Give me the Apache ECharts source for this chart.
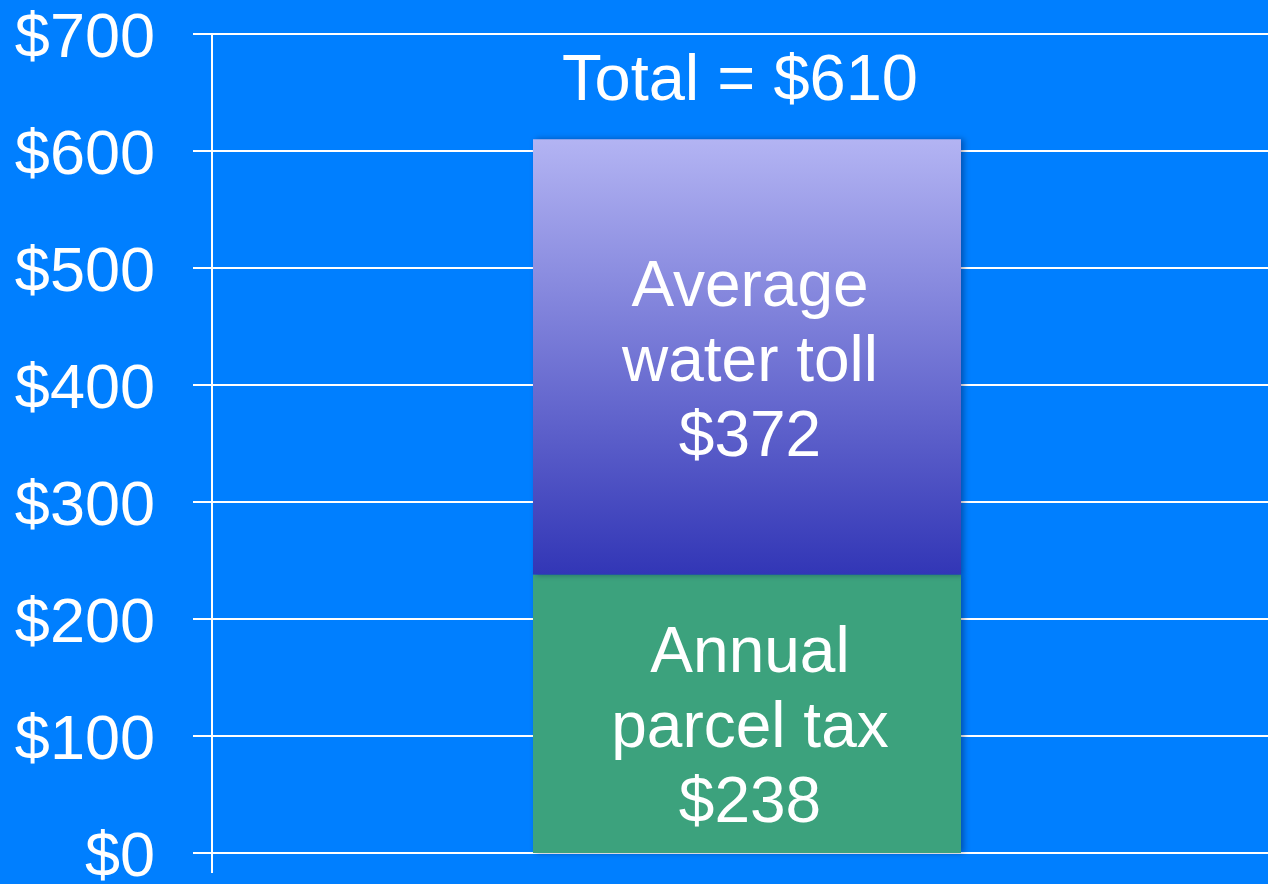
<!DOCTYPE html>
<html>
<head>
<meta charset="utf-8">
<style>
  html, body { margin: 0; padding: 0; background: #007fff; overflow: hidden; }
  #chart { width: 1268px; height: 884px; }
</style>
<script src="https://cdn.jsdelivr.net/npm/echarts@6/dist/echarts.min.js"></script>
</head>
<body>
<div id="chart"></div>
<script>
// data
const categories = ['2024'];
const parcelTax = [238];
const waterToll = [372];
const yTicks = [0, 100, 200, 300, 400, 500, 600, 700];

const total = parcelTax[0] + waterToll[0];
const font = '"Liberation Sans", Arial, sans-serif';

let chart = echarts.init(document.getElementById('chart'));
let option = {
  backgroundColor: '#007fff',
  animation: false,
  // plot area runs a bit past the right edge of the page
  grid: { left: 212, right: -14, top: 34, bottom: 31, outerBoundsMode: 'none' },
  xAxis: {
    type: 'category',
    data: categories,
    axisLine: { lineStyle: { color: '#fff', width: 2 } },
    axisTick: { show: true, length: 20, lineStyle: { color: '#fff', width: 2 } },
    axisLabel: { show: false }
  },
  yAxis: {
    type: 'value',
    min: yTicks[0],
    max: yTicks[yTicks.length - 1],
    interval: 100,
    axisLine: { show: true, lineStyle: { color: '#fff', width: 2 } },
    axisTick: { show: true, length: 19, lineStyle: { color: '#fff', width: 2 } },
    splitLine: { lineStyle: { color: '#fff', width: 2 } },
    axisLabel: {
      color: '#fff',
      fontSize: 63,
      fontFamily: font,
      margin: 57,
      formatter: v => '{a|$' + v + '}',
      rich: {
        a: { color: '#fff', fontSize: 63, fontFamily: font, padding: [12, 0, 0, 0] }
      }
    }
  },
  series: [
    {
      name: 'Annual parcel tax',
      type: 'bar',
      stack: 'cost',
      barWidth: 428,
      data: parcelTax,
      itemStyle: {
        color: '#3ca27d',
        shadowColor: 'rgba(0,0,40,0.35)',
        shadowBlur: 6,
        shadowOffsetX: 3
      },
      label: {
        show: true,
        position: 'inside',
        color: '#fff',
        fontSize: 64,
        lineHeight: 75,
        fontFamily: font,
        offset: [3, 16],
        formatter: p => 'Annual\nparcel tax\n$' + p.value
      }
    },
    {
      name: 'Average water toll',
      type: 'bar',
      stack: 'cost',
      barWidth: 428,
      data: waterToll,
      itemStyle: {
        color: new echarts.graphic.LinearGradient(0, 0, 0, 1, [
          { offset: 0, color: '#b3b4f3' },
          { offset: 1, color: '#3236b6' }
        ]),
        shadowColor: 'rgba(0,0,40,0.35)',
        shadowBlur: 6,
        shadowOffsetX: 3
      },
      label: {
        show: true,
        position: 'inside',
        color: '#fff',
        fontSize: 64,
        lineHeight: 75,
        fontFamily: font,
        offset: [3, 6],
        formatter: p => 'Average\nwater toll\n$' + p.value
      }
    },
    {
      name: 'Total',
      type: 'bar',
      stack: 'cost',
      barWidth: 428,
      data: [0],
      itemStyle: { color: 'transparent' },
      label: {
        show: true,
        position: 'top',
        distance: 25,
        offset: [-7, 0],
        color: '#fff',
        fontSize: 65,
        fontFamily: font,
        formatter: () => 'Total = $' + total
      }
    }
  ]
};

chart.setOption(option);
window.addEventListener('resize', function () {
  chart.resize();
});
</script>
</body>
</html>
